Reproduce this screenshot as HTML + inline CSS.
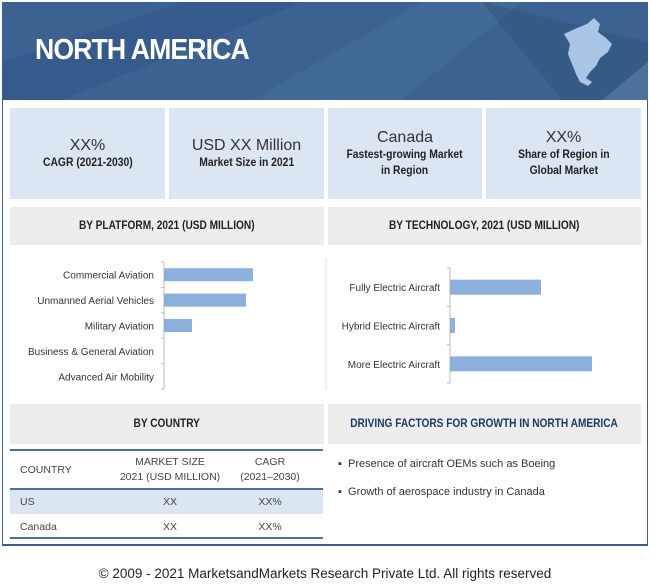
<!DOCTYPE html>
<html><head><meta charset="utf-8"><style>
*{margin:0;padding:0;box-sizing:border-box}
body{width:650px;height:587px;background:#fff;font-family:"Liberation Sans",sans-serif;position:relative;overflow:hidden;color:#222}
.abs{position:absolute}
.box{position:absolute;background:#dce6f2;text-align:center;display:flex;flex-direction:column;justify-content:center;align-items:center}
.big{font-size:16px;color:#333}
.small{font-size:11.5px;font-weight:bold;line-height:16px;color:#222;transform:scaleX(.9)}
.sec{position:absolute;background:#ededed;display:flex;align-items:center;justify-content:center;font-size:11.5px;font-weight:bold;color:#222;white-space:nowrap}
.sec span{display:inline-block;transform:scaleX(.88)}
.cell{position:absolute;font-size:10.5px;color:#444;text-align:center}
</style></head><body>
<div class="abs" style="left:2px;top:2px;width:646px;height:544px;border:1px solid #3d5f8a;border-bottom-width:2px"></div>
<svg class="abs" style="left:2px;top:2px" width="646" height="98">
<rect width="646" height="98" fill="#3b6290"/>
<polygon points="0,60 180,0 300,0 60,98 0,98" fill="#36598a" opacity=".8"/>
<polygon points="250,98 420,0 520,0 400,98" fill="#4570a0" opacity=".5"/>
<polygon points="480,0 646,40 646,98 560,98" fill="#335580" opacity=".6"/>
<polygon points="600,98 646,60 646,98" fill="#5a80ac" opacity=".6"/>
<path d="M562,32 L575,26 L585,22 L592,16 L598,22 L596,30 L604,36 L610,42 L606,50 L598,56 L594,64 L588,70 L584,76 L590,80 L586,84 L578,80 L574,72 L570,62 L566,52 L568,42 Z" fill="#a9c4e4"/>
</svg>
<div class="abs" style="left:35px;top:34px;font-size:29px;font-weight:bold;color:#fff;letter-spacing:-1px;transform:scaleX(.92);transform-origin:left">NORTH AMERICA</div>

<div class="box" style="left:10px;top:108px;width:155px;height:91px"><div class="big">XX%</div><div class="small">CAGR (2021-2030)</div></div>
<div class="box" style="left:169px;top:108px;width:155px;height:91px"><div class="big">USD XX Million</div><div class="small">Market Size in 2021</div></div>
<div class="box" style="left:328px;top:108px;width:154px;height:91px"><div class="big">Canada</div><div class="small">Fastest-growing Market<br>in Region</div></div>
<div class="box" style="left:486px;top:108px;width:155px;height:91px"><div class="big">XX%</div><div class="small">Share of Region in<br>Global Market</div></div>

<div class="sec" style="left:10px;top:207px;width:314px;height:38px"><span>BY PLATFORM, 2021 (USD MILLION)</span></div>
<div class="sec" style="left:328px;top:207px;width:313px;height:38px"><span>BY TECHNOLOGY, 2021 (USD MILLION)</span></div>

<svg class="abs" id="charts" style="left:0;top:250px" width="650" height="145"></svg>

<div class="sec" style="left:10px;top:404px;width:314px;height:40px"><span>BY COUNTRY</span></div>
<div class="sec" style="left:328px;top:404px;width:313px;height:40px;color:#1f3864"><span>DRIVING FACTORS FOR GROWTH IN NORTH AMERICA</span></div>

<div class="abs" style="left:10px;top:449px;width:313px;height:91px">
<div class="abs" style="left:0;top:0;width:313px;border-top:2px solid #4a70a0"></div>
<div class="abs" style="left:0;top:39px;width:313px;border-top:2px solid #4a70a0"></div>
<div class="abs" style="left:0;top:41px;width:313px;height:24px;background:#dce6f2"></div>
<div class="abs" style="left:0;top:88px;width:313px;border-top:2px solid #4a70a0"></div>
<div class="cell" style="left:10px;top:15px">COUNTRY</div>
<div class="cell" style="left:100px;top:6px;width:120px;line-height:15px">MARKET SIZE<br>2021 (USD MILLION)</div>
<div class="cell" style="left:225px;top:6px;width:70px;line-height:15px">CAGR<br>(2021–2030)</div>
<div class="cell" style="left:10px;top:47px">US</div>
<div class="cell" style="left:100px;top:47px;width:120px">XX</div>
<div class="cell" style="left:225px;top:47px;width:70px">XX%</div>
<div class="cell" style="left:10px;top:72px">Canada</div>
<div class="cell" style="left:100px;top:72px;width:120px">XX</div>
<div class="cell" style="left:225px;top:72px;width:70px">XX%</div>
</div>

<div class="abs" style="left:338px;top:458px;font-size:11px;color:#333">▪&nbsp; Presence of aircraft OEMs such as Boeing</div>
<div class="abs" style="left:338px;top:486px;font-size:11px;color:#333">▪&nbsp; Growth of aerospace industry in Canada</div>

<div class="abs" style="left:0;top:566px;width:650px;text-align:center;font-size:13.5px;color:#222">© 2009 - 2021 MarketsandMarkets Research Private Ltd. All rights reserved</div>

<script>
const platformCats=["Commercial Aviation","Unmanned Aerial Vehicles","Military Aviation","Business & General Aviation","Advanced Air Mobility"];
const platformVals=[89,82,28,0,0];
const techCats=["Fully Electric Aircraft","Hybrid Electric Aircraft","More Electric Aircraft"];
const techVals=[91,5,142];
const NS="http://www.w3.org/2000/svg";
const svg=document.getElementById('charts');
function mk(t,a){const e=document.createElementNS(NS,t);for(const k in a)e.setAttribute(k,a[k]);svg.appendChild(e);return e;}
function chart(cats,vals,ax,y0,y1,barH,name){
  const n=cats.length,step=(y1-y0)/n;
  const xs=v=>ax+v*1.0;
  const axis=mk('line',{x1:ax,x2:ax,y1:y0,y2:y1,stroke:'#bbb'});
  
  
  for(let i=0;i<=n;i++)mk('line',{x1:ax-3,x2:ax,y1:y0+i*step,y2:y0+i*step,stroke:'#bbb'});
  cats.forEach((c,i)=>{
    const cy=y0+step*(i+.5);
    const t=mk('text',{x:ax-10,y:cy+4,'text-anchor':'end','font-size':10,fill:'#333','font-family':'Liberation Sans, sans-serif'});
    t.textContent=c;
    
    
    if(vals[i]>0){
      const r=mk('rect',{x:ax,y:cy-barH/2,width:xs(vals[i])-ax,height:barH,fill:'#8cb0dc'});
      
      
    }
  });
}
chart(platformCats,platformVals,164,12,139,13,'platform');
mk('line',{x1:326,x2:326,y1:8,y2:140,stroke:'#ddd'});
chart(techCats,techVals,450,18,133,15,'technology');
</script>
</body></html>
